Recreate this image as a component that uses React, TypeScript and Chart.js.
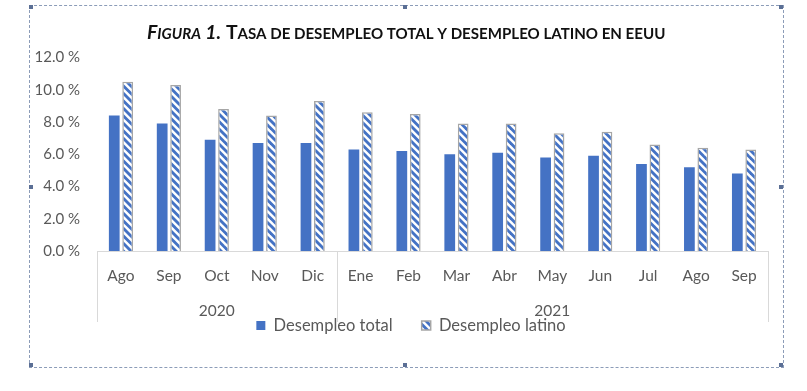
import React, { useEffect, useRef } from "react";
import { Chart, registerables } from "chart.js";

Chart.register(...registerables);

// ---- data ----
const months = ["Ago", "Sep", "Oct", "Nov", "Dic", "Ene", "Feb", "Mar", "Abr", "May", "Jun", "Jul", "Ago", "Sep"];
const years = ["2020", "2021"];
const yearSpans = [5, 9];
const desempleoTotal = [8.4, 7.9, 6.9, 6.7, 6.7, 6.3, 6.2, 6.0, 6.1, 5.8, 5.9, 5.4, 5.2, 4.8];
const desempleoLatino = [10.5, 10.3, 8.8, 8.4, 9.3, 8.6, 8.5, 7.9, 7.9, 7.3, 7.4, 6.6, 6.4, 6.3];
const seriesNames = ["Desempleo total", "Desempleo latino"];
const yMin = 0;
const yMax = 12;
const yStep = 2;

const BLUE = "#4472C4";
const GRAY_TEXT = "#595959";
const AXIS_GRAY = "#D9D9D9";
const FONT = "Lato, 'Open Sans', sans-serif";

function makeStripePattern(): CanvasPattern | string {
  const s = 7.5;
  const c = document.createElement("canvas");
  c.width = 15;
  c.height = 15;
  const ctx = c.getContext("2d");
  if (!ctx) return BLUE;
  ctx.fillStyle = "#ffffff";
  ctx.fillRect(0, 0, 15, 15);
  ctx.strokeStyle = BLUE;
  ctx.lineWidth = 2.9;
  for (const off of [-15, -7.5, 0, 7.5, 15]) {
    ctx.beginPath();
    ctx.moveTo(off - 1, -1);
    ctx.lineTo(off + 15 + 1, 15 + 1);
    ctx.stroke();
  }
  const p = ctx.createPattern(c, "repeat");
  return p || BLUE;
}

const titlePlugin = {
  id: "smallCapsTitle",
  afterDraw(chart: any) {
    const ctx = chart.ctx as CanvasRenderingContext2D;
    const segs: { t: string; big: boolean; it: boolean }[] = [
      { t: "F", big: true, it: true },
      { t: "IGURA", big: false, it: true },
      { t: " 1.", big: true, it: true },
      { t: " T", big: true, it: false },
      { t: "ASA DE DESEMPLEO TOTAL Y DESEMPLEO LATINO EN EEUU", big: false, it: false },
    ];
    const targetW = 519;
    const measure = (k: number) => {
      let w = 0;
      for (const s of segs) {
        ctx.font = `${s.it ? "italic " : ""}bold ${(s.big ? 18 : 14) * k}px ${FONT}`;
        w += ctx.measureText(s.t).width;
      }
      return w;
    };
    ctx.save();
    const k = targetW / measure(1);
    let x = 147;
    const y = 39;
    ctx.fillStyle = "#111111";
    ctx.textBaseline = "alphabetic";
    ctx.textAlign = "left";
    for (const s of segs) {
      ctx.font = `${s.it ? "italic " : ""}bold ${(s.big ? 18 : 14) * k}px ${FONT}`;
      ctx.fillText(s.t, x, y);
      x += ctx.measureText(s.t).width;
    }
    ctx.restore();
  },
};

const groupAxisPlugin = {
  id: "groupAxis",
  afterDraw(chart: any) {
    const ctx = chart.ctx as CanvasRenderingContext2D;
    const xs = chart.scales.x;
    const area = chart.chartArea;
    const bottom = area.bottom;
    const lineEnd = bottom + 71;
    ctx.save();
    ctx.strokeStyle = AXIS_GRAY;
    ctx.lineWidth = 1;
    const bounds: number[] = [area.left];
    let idx = 0;
    for (let i = 0; i < yearSpans.length; i++) {
      idx += yearSpans[i];
      if (idx < months.length) {
        bounds.push((xs.getPixelForTick(idx - 1) + xs.getPixelForTick(idx)) / 2);
      } else {
        bounds.push(area.right);
      }
    }
    for (const bx of bounds) {
      const px = Math.round(bx) + 0.5;
      ctx.beginPath();
      ctx.moveTo(px, bottom);
      ctx.lineTo(px, lineEnd);
      ctx.stroke();
    }
    ctx.fillStyle = GRAY_TEXT;
    ctx.font = `15.5px ${FONT}`;
    ctx.textAlign = "center";
    ctx.textBaseline = "middle";
    for (let i = 0; i < years.length; i++) {
      ctx.fillText(years[i], (bounds[i] + bounds[i + 1]) / 2, 311);
    }
    ctx.restore();
  },
};

// shifts the bottom legend box sideways so it sits where the reference places it
const legendShiftPlugin = {
  id: "legendShift",
  afterLayout(chart: any) {
    const l = chart.legend;
    if (l) {
      l.left += 27;
      l.right += 27;
    }
  },
};

export default function App() {
  const ref = useRef<HTMLCanvasElement | null>(null);

  useEffect(() => {
    if (!ref.current) return;
    const pattern = makeStripePattern();
    const chart = new Chart(ref.current, {
      type: "bar",
      data: {
        labels: months,
        datasets: [
          {
            label: seriesNames[0],
            data: desempleoTotal,
            backgroundColor: BLUE,
            borderWidth: 0,
            categoryPercentage: 0.56,
            barPercentage: 0.8,
          },
          {
            label: seriesNames[1],
            data: desempleoLatino,
            backgroundColor: pattern as any,
            borderColor: "#A6A6A6",
            borderWidth: 1.5,
            categoryPercentage: 0.56,
            barPercentage: 0.8,
          },
        ],
      },
      options: {
        responsive: false,
        animation: false,
        devicePixelRatio: 1,
        layout: { padding: { left: 0, right: 39, top: 57.5, bottom: 47.25 } },
        plugins: {
          title: { display: false },
          tooltip: { enabled: false },
          legend: {
            position: "bottom",
            align: "center",
            labels: {
              boxWidth: 9,
              boxHeight: 9,
              padding: 29,
              color: GRAY_TEXT,
              font: { family: FONT, size: 16.5 },
            },
          },
        },
        scales: {
          x: {
            grid: { display: false, drawTicks: false },
            border: { display: true, color: AXIS_GRAY, width: 1 },
            ticks: {
              color: GRAY_TEXT,
              font: { family: FONT, size: 15.5 },
              padding: 16,
              maxRotation: 0,
              autoSkip: false,
            },
            afterFit: (scale: any) => {
              scale.height = 37.25;
            },
          },
          y: {
            min: yMin,
            max: yMax,
            grid: { display: false, drawTicks: false },
            border: { display: false },
            ticks: {
              stepSize: yStep,
              color: GRAY_TEXT,
              font: { family: FONT, size: 15 },
              padding: 17,
              callback: (v: any) => Number(v).toFixed(1) + " %",
            },
            afterFit: (scale: any) => {
              scale.width = 97;
            },
          },
        },
      },
      plugins: [titlePlugin, groupAxisPlugin, legendShiftPlugin],
    });
    return () => chart.destroy();
  }, []);

  const handle = (left: number, top: number) => (
    <div
      style={{
        position: "absolute",
        left,
        top,
        width: 4,
        height: 4,
        background: "#5B6F95",
      }}
    />
  );

  return (
    <div style={{ position: "absolute", left: 0, top: 0, width: 807, height: 391, background: "#ffffff" }}>
      <div
        style={{
          position: "absolute",
          left: 29,
          top: 5,
          width: 753,
          height: 361,
          border: "1px dashed #8C9CB8",
        }}
      />
      <canvas ref={ref} width={807} height={391} style={{ position: "absolute", left: 0, top: 0, width: 807, height: 391 }} />
      {handle(29, 5)}
      {handle(403, 5)}
      {handle(779, 5)}
      {handle(29, 185)}
      {handle(779, 185)}
      {handle(29, 363)}
      {handle(403, 363)}
      {handle(779, 363)}
    </div>
  );
}
